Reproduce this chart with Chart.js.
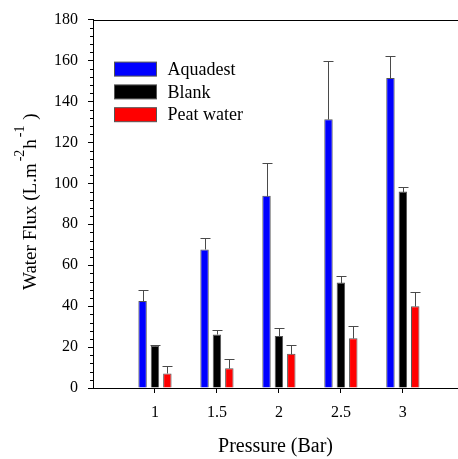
<!DOCTYPE html>
<html>
<head>
<meta charset="utf-8">
<script src="https://cdn.jsdelivr.net/npm/chart.js@4.4.1/dist/chart.umd.min.js"></script>
<style>
  html, body { margin: 0; padding: 0; background: #fff; }
</style>
</head>
<body>
<canvas id="chart" width="458" height="459"></canvas>
<script>
// data
const pressures = [1, 1.5, 2, 2.5, 3];
const seriesNames = ['Aquadest', 'Blank', 'Peat water'];
const aquadest = [42.5, 67.7, 93.9, 131.3, 151.5];
const aquadestErr = [5.4, 5.7, 16.1, 28.3, 10.8];
const blank = [20.6, 26.2, 25.4, 51.5, 96.0];
const blankErr = [0.3, 1.9, 4.0, 3.0, 2.1];
const peatWater = [7.1, 9.7, 16.7, 24.3, 39.9];
const peatWaterErr = [3.7, 4.6, 4.2, 6.0, 6.8];
const yTickValues = [0, 20, 40, 60, 80, 100, 120, 140, 160, 180];

const FONT = "'Liberation Serif', 'Times New Roman', serif";

const toPoints = (vals) => vals.map((v, i) => ({ x: pressures[i], y: v }));

const makeSet = (label, vals, errs, color) => ({
    label: label,
    data: toPoints(vals),
    errors: errs,
    backgroundColor: color,
    borderColor: '#555555',
    borderWidth: 1,
    barPercentage: 0.68,
    categoryPercentage: 0.6,
});

// error bars, minor ticks, top frame line, legend and y title
const extras = {
    id: 'extras',
    afterDatasetsDraw(chart) {
        const ctx = chart.ctx;
        const y = chart.scales.y;
        ctx.save();
        ctx.strokeStyle = '#4a4a4a';
        ctx.lineWidth = 1;
        chart.data.datasets.forEach((ds, i) => {
            chart.getDatasetMeta(i).data.forEach((bar, j) => {
                const top = Math.round(y.getPixelForValue(ds.data[j].y + ds.errors[j])) + 0.5;
                const base = Math.round(bar.y) + 0.5;
                const x = Math.round(bar.x) + 0.5;
                ctx.beginPath();
                ctx.moveTo(x, base);
                ctx.lineTo(x, top);
                ctx.moveTo(x - 5, top);
                ctx.lineTo(x + 5, top);
                ctx.stroke();
            });
        });
        ctx.restore();
    },
    afterDraw(chart) {
        const ctx = chart.ctx;
        const area = chart.chartArea;
        const y = chart.scales.y;
        ctx.save();

        // frame top
        ctx.strokeStyle = '#000';
        ctx.lineWidth = 1;
        ctx.beginPath();
        ctx.moveTo(area.left, Math.round(area.top) + 0.5);
        ctx.lineTo(area.right, Math.round(area.top) + 0.5);
        ctx.stroke();

        // minor ticks every 4
        ctx.beginPath();
        for (let v = 0; v <= 180; v += 4) {
            if (v % 20 === 0) continue;
            const py = Math.round(y.getPixelForValue(v)) + 0.5;
            ctx.moveTo(area.left - 3, py);
            ctx.lineTo(area.left, py);
        }
        ctx.stroke();

        // legend inside the plot
        ctx.font = '18px ' + FONT;
        ctx.textBaseline = 'middle';
        ctx.textAlign = 'left';
        chart.data.datasets.forEach((ds, i) => {
            const bx = area.left + 21.5;
            const by = area.top + 42.5 + i * 22.8;
            ctx.fillStyle = ds.backgroundColor;
            ctx.fillRect(bx, by, 42, 14);
            ctx.strokeStyle = '#555555';
            ctx.strokeRect(bx, by, 42, 14);
            ctx.fillStyle = '#000';
            ctx.fillText(ds.label, bx + 53, by + 8);
        });

        // y axis title with superscripts
        const parts = [
            { t: 'Water Flux (L.m', sup: false },
            { t: '-2', sup: true },
            { t: 'h', sup: false },
            { t: '-1', sup: true },
            { t: ' )', sup: false },
        ];
        ctx.translate(35.7, 290);
        ctx.rotate(-Math.PI / 2);
        ctx.textBaseline = 'alphabetic';
        ctx.fillStyle = '#000';
        let cx = 0;
        parts.forEach(p => {
            ctx.font = (p.sup ? '14px ' : '19px ') + FONT;
            ctx.fillText(p.t, cx, p.sup ? -12 : 0);
            cx += ctx.measureText(p.t).width + (p.sup ? 1 : 2);
        });
        ctx.restore();
    }
};

new Chart(document.getElementById('chart'), {
    type: 'bar',
    data: {
        datasets: [
            makeSet(seriesNames[0], aquadest, aquadestErr, '#0000ff'),
            makeSet(seriesNames[1], blank, blankErr, '#000000'),
            makeSet(seriesNames[2], peatWater, peatWaterErr, '#ff0000'),
        ]
    },
    options: {
        responsive: false,
        animation: false,
        layout: { padding: { top: 15, left: 0, right: 0, bottom: 0 } },
        plugins: {
            legend: { display: false },
            tooltip: { enabled: false }
        },
        scales: {
            x: {
                type: 'linear',
                offset: false,
                min: 0.5,
                max: 3.445,
                afterBuildTicks: (s) => { s.ticks = pressures.map(v => ({ value: v })); },
                afterFit: (s) => { s.height = 71; },
                grid: { display: true, drawOnChartArea: false, offset: false, tickLength: 5, color: '#000' },
                border: { display: true, color: '#000', width: 1 },
                ticks: {
                    color: '#000',
                    padding: 10,
                    maxRotation: 0,
                    autoSkip: false,
                    font: { family: FONT, size: 16 },
                    callback: (v) => String(v)
                },
                title: {
                    display: true,
                    text: 'Pressure (Bar)',
                    color: '#000',
                    padding: { top: 0, bottom: 0 },
                    font: { family: FONT, size: 20 }
                }
            },
            y: {
                min: 0,
                max: 180,
                afterBuildTicks: (s) => { s.ticks = yTickValues.map(v => ({ value: v })); },
                afterFit: (s) => { s.width = 93; },
                grid: { display: true, drawOnChartArea: false, tickLength: 5, color: '#000' },
                border: { display: true, color: '#000', width: 1 },
                ticks: {
                    color: '#000',
                    padding: 10,
                    autoSkip: false,
                    font: { family: FONT, size: 16 }
                }
            }
        }
    },
    plugins: [extras]
});
</script>
</body>
</html>
